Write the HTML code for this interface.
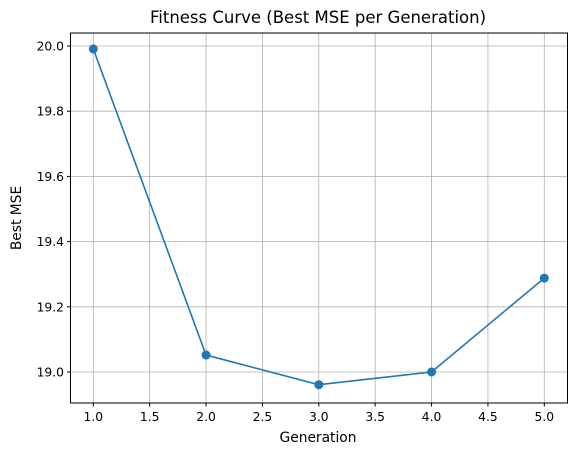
<!DOCTYPE html>
<html><head><meta charset="utf-8"><style>
body{margin:0;background:#fff;}
text{font-family:"DejaVu Sans","Liberation Sans",sans-serif;}
</style></head><body>
<svg id="chart" width="576" height="455" xmlns="http://www.w3.org/2000/svg">
<rect width="576" height="455" fill="#fff"/>
<g id="grid"></g>
<g id="ticks"></g>
<g id="series"></g>
<rect x="70.5" y="33" width="497" height="370" fill="none" stroke="#000" stroke-width="1"/>
<text x="318" y="23" font-size="16.5" text-anchor="middle">Fitness Curve (Best MSE per Generation)</text>
<text x="318" y="442" font-size="13.8" text-anchor="middle">Generation</text>
<text x="21" y="218" font-size="13.8" text-anchor="middle" transform="rotate(-90 21 218)">Best MSE</text>
</svg>
<script>
const generations=[1,2,3,4,5];
const bestMse=[19.991,19.052,18.961,19.0,19.288];
const xTicks=[1.0,1.5,2.0,2.5,3.0,3.5,4.0,4.5,5.0];
const yTicks=[19.0,19.2,19.4,19.6,19.8,20.0];
const X=v=>93.3+(v-1)*(544.3-93.3)/4;
const Y=v=>372-(v-19)*326;
const ns="http://www.w3.org/2000/svg";
function mk(t,a,p){const e=document.createElementNS(ns,t);for(const k in a)e.setAttribute(k,a[k]);p.appendChild(e);return e;}
const grid=document.getElementById('grid'),ticks=document.getElementById('ticks'),series=document.getElementById('series');
xTicks.forEach(v=>{const x=X(v);
const g=mk('line',{x1:x,x2:x,y1:33,y2:403,stroke:'#b0b0b0','stroke-width':0.8},grid);


mk('line',{x1:x,x2:x,y1:403,y2:406.5,stroke:'#000'},ticks);
const t=mk('text',{x:x,y:421,'font-size':12.3,'text-anchor':'middle'},ticks);t.textContent=v.toFixed(1);

});
yTicks.forEach(v=>{const y=Y(v);
const g=mk('line',{x1:70.5,x2:567.5,y1:y,y2:y,stroke:'#b0b0b0','stroke-width':0.8},grid);


mk('line',{x1:67,x2:70.5,y1:y,y2:y,stroke:'#000'},ticks);
const t=mk('text',{x:64,y:y+4.5,'font-size':12.3,'text-anchor':'end'},ticks);t.textContent=v.toFixed(1);

});
const pts=generations.map((g,i)=>X(g)+','+Y(bestMse[i])).join(' ');
const pl=mk('polyline',{points:pts,fill:'none',stroke:'#1f77b4','stroke-width':1.6},series);


generations.forEach((g,i)=>{const c=mk('circle',{cx:X(g),cy:Y(bestMse[i]),r:4.5,fill:'#1f77b4'},series);

});
</script>
</body></html>
